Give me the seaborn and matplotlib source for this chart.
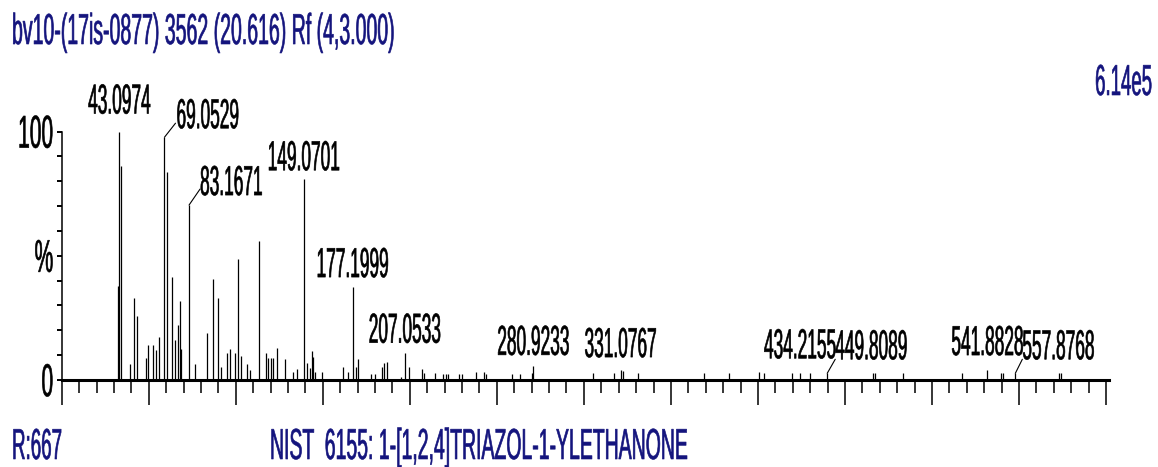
import numpy as np
import seaborn as sns
import matplotlib
matplotlib.use('Agg')
import matplotlib.pyplot as plt
import matplotlib.patheffects as pe
from matplotlib.transforms import Affine2D

# Spektrum: m/z ve bagil siddet (%)
mz = [42.5, 43.0974, 44.0, 49.2, 51.5, 53.3, 58.3, 59.4, 62.6, 64.4,
      66.1, 69.0529, 70.3, 73.5, 75.3, 76.6, 77.9, 78.6, 83.1671, 86.6,
      93.5, 97.2, 99.6, 101.4, 104.8, 106.7, 109.4, 111.1, 112.9, 116.7,
      118.0, 123.6, 127.4, 128.7, 130.1, 131.6, 133.6, 138.1, 142.7, 145.4,
      149.0701, 150.8, 152.7, 153.6, 154.6, 155.5, 159.4, 171.4, 174.3, 177.1999,
      179.1, 180.4, 187.7, 190.0, 193.9, 195.4, 196.7, 204.8, 207.0533, 209.7,
      216.8, 218.3, 224.7, 229.3, 230.6, 232.1, 238.3, 239.8, 247.9, 252.6,
      253.6, 268.5, 273.3, 280.4, 280.9233, 315.4, 327.3, 331.0767, 332.3, 341.3,
      379.2, 393.2, 410.5, 413.5, 429.8, 434.2155, 440.0, 449.8089, 476.0, 477.3,
      493.5, 527.4, 541.8828, 549.5, 550.6, 557.8768, 582.8, 584.0]
intensity = [37.7, 100.0, 86.0, 6.5, 33.0, 25.6, 8.8, 14.0, 14.0, 12.0,
             17.3, 97.7, 83.6, 41.4, 16.0, 22.0, 31.7, 12.4, 70.4, 6.5,
             18.9, 40.5, 33.0, 5.4, 11.0, 12.4, 11.0, 48.5, 9.7, 6.5,
             4.0, 55.9, 11.0, 8.8, 8.8, 8.8, 13.0, 8.4, 3.4, 4.5,
             80.8, 6.7, 4.7, 11.7, 9.2, 3.4, 3.4, 5.4, 3.4, 37.4,
             5.4, 8.4, 2.4, 2.4, 5.4, 6.7, 7.4, 1.2, 11.0, 5.4,
             4.6, 3.0, 3.0, 2.4, 2.4, 2.4, 2.4, 2.4, 3.4, 3.4,
             2.4, 2.4, 2.4, 3.0, 5.7, 2.7, 2.7, 4.0, 3.8, 2.7,
             2.7, 2.7, 3.4, 2.7, 2.7, 2.7, 2.7, 2.7, 2.7, 2.7,
             2.7, 2.7, 4.0, 2.7, 2.7, 2.7, 2.7, 2.7]

labelled = [43.0974, 69.0529, 83.1671, 149.0701, 177.1999, 207.0533,
            280.9233, 331.0767, 434.2155, 449.8089, 541.8828, 557.8768]

title = 'bv10-(17is-0877) 3562 (20.616) Rf (4,3.000)'
max_count = '6.14e5'
ref_text = 'R:667'
hit_text = 'NIST  6155: 1-[1,2,4]TRIAZOL-1-YLETHANONE'

# etiket yerlesimi (piksel): (leader dx, leader dy, text dx, text dy)
leader_offsets = {69.0529: (11, 14, 12, 9), 83.1671: (11, 16, 11, 10),
                  449.8089: (8, 14, 8, 14), 557.8768: (7, 14, 7, 14)}
label_gap = {43.0974: 18, 149.0701: 9, 177.1999: 10, 207.0533: 10,
             280.9233: 11, 331.0767: 13, 434.2155: 15, 541.8828: 15}

NAVY = '#14147d'
W, H = 1158, 467
PX_PER_MZ = 87.03 / 50


class Stretch(pe.AbstractPathEffect):
    """Yaziyi dikeyde uzatir (dar ve uzun MassLynx fontu icin)."""
    def __init__(self, sy, center=False, lw=0.45):
        super().__init__()
        self.sy = sy
        self.center = center
        self.lw = lw

    def draw_path(self, renderer, gc, tpath, affine, rgbFace=None):
        cy = 0.0
        if self.center:
            ext = tpath.get_extents()
            cy = 0.5 * (ext.y0 + ext.y1)
        st = Affine2D().translate(0, -cy).scale(1, self.sy).translate(0, cy)
        gc0 = renderer.new_gc()
        gc0.copy_properties(gc)
        gc0.set_linewidth(self.lw)
        gc0.set_foreground(rgbFace)
        gc0.set_joinstyle('round')
        renderer.draw_path(gc0, tpath, st + affine, rgbFace)
        gc0.restore()


sns.set_style('white')
plt.rcParams['font.family'] = ['Liberation Sans', 'DejaVu Sans']

fig = plt.figure(figsize=(W / 100, H / 100), dpi=100)
x0_px, base_px, top_px = 61.7, 380, 131.5
xmin, xmax = 10, 611.5
ax = fig.add_axes([x0_px / W, (H - base_px) / H,
                   (xmax - xmin) * PX_PER_MZ / W, (base_px - top_px) / H])

ax.vlines(mz, 0, intensity, color='black', lw=0.9, clip_on=False)
ax.set_xlim(xmin, xmax)
ax.set_ylim(0, 100)

sns.despine(ax=ax)
ax.spines['bottom'].set_linewidth(2.2)
ax.spines['bottom'].set_color('black')
ax.spines['left'].set_linewidth(1.1)
ax.spines['left'].set_color('black')

ax.set_xticks(np.arange(10, 611, 50))
ax.set_xticks(np.arange(10, 611, 10), minor=True)
ax.tick_params(axis='x', which='major', length=18, width=1.1, direction='out',
               color='black', labelbottom=False, bottom=True)
ax.tick_params(axis='x', which='minor', length=9.4, width=1.1, direction='out',
               color='black', bottom=True)

ax.set_yticks([0, 50, 100])
ax.set_yticks(np.arange(0, 101, 10), minor=True)
ax.set_yticklabels(['0', '%', '100'])
ax.tick_params(axis='y', which='both', length=3.6, width=1.4, direction='out',
               color='black', left=True, pad=2.5, labelsize=15.1, labelcolor='black')
for lbl in ax.get_yticklabels():
    lbl.set_path_effects([Stretch(2.19, center=True)])

# tepe etiketleri
for m in labelled:
    h = intensity[mz.index(m)]
    txt = f'{m:.4f}'
    if m in leader_offsets:
        ldx, ldy, tdx, tdy = leader_offsets[m]
        ax.annotate('', xy=(m, h), xytext=(ldx, ldy), textcoords='offset pixels',
                    arrowprops=dict(arrowstyle='-', color='black', lw=0.8,
                                    shrinkA=0, shrinkB=0))
        ax.annotate(txt, xy=(m, h), xytext=(tdx, tdy), textcoords='offset pixels',
                    ha='left', va='baseline', fontsize=12.46, color='black',
                    path_effects=[Stretch(2.42)])
    else:
        ax.annotate(txt, xy=(m, h), xytext=(0, label_gap[m]), textcoords='offset pixels',
                    ha='center', va='baseline', fontsize=12.46, color='black',
                    path_effects=[Stretch(2.42)])

fig.text(12 / W, 1 - 44 / H, title, ha='left', va='baseline', fontsize=14.04,
         color=NAVY, path_effects=[Stretch(2.22)])
fig.text(1152 / W, 1 - 95 / H, max_count, ha='right', va='baseline', fontsize=13.4,
         color=NAVY, path_effects=[Stretch(2.33)])
fig.text(12 / W, 1 - 459 / H, ref_text, ha='left', va='baseline', fontsize=13.5,
         color=NAVY, path_effects=[Stretch(2.31)])
fig.text(270 / W, 1 - 459 / H, hit_text, ha='left', va='baseline', fontsize=14.0,
         color=NAVY, path_effects=[Stretch(2.23)])

fig.savefig('out.png', dpi=100, facecolor='white')
